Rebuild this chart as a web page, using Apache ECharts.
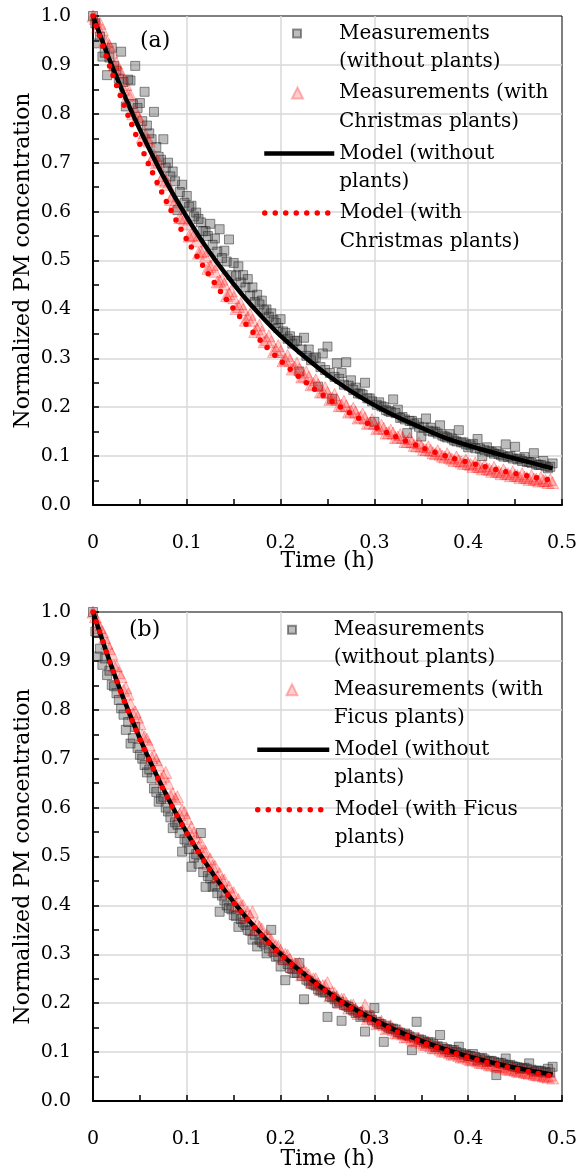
<!DOCTYPE html>
<html>
<head>
<meta charset="utf-8">
<script src="https://cdn.jsdelivr.net/npm/echarts@6.0.0/dist/echarts.min.js"></script>
<style>
  html, body { margin: 0; padding: 0; background: #fff; }
  #chart { width: 578px; height: 1174px; }
</style>
</head>
<body>
<div id="chart"></div>
<script>
// measurement times (h); the logger samples are split in two interleaved runs
const measTime = [0, 0.005, 0.01, 0.015, 0.02, 0.025, 0.03, 0.035, 0.04, 0.045,
  0.05, 0.055, 0.06, 0.065, 0.07, 0.075, 0.08, 0.085, 0.09, 0.095,
  0.1, 0.105, 0.11, 0.115, 0.12, 0.125, 0.13, 0.135, 0.14, 0.145,
  0.15, 0.155, 0.16, 0.165, 0.17, 0.175, 0.18, 0.185, 0.19, 0.195,
  0.2, 0.205, 0.21, 0.215, 0.22, 0.225, 0.23, 0.235, 0.24, 0.245,
  0.25, 0.255, 0.26, 0.265, 0.27, 0.275, 0.28, 0.285, 0.29, 0.295,
  0.3, 0.305, 0.31, 0.315, 0.32, 0.325, 0.33, 0.335, 0.34, 0.345,
  0.35, 0.355, 0.36, 0.365, 0.37, 0.375, 0.38, 0.385, 0.39, 0.395,
  0.4, 0.405, 0.41, 0.415, 0.42, 0.425, 0.43, 0.435, 0.44, 0.445,
  0.45, 0.455, 0.46, 0.465, 0.47, 0.475, 0.48, 0.485, 0.49];
const measTimeHalf = [0.0025, 0.0075, 0.0125, 0.0175, 0.0225, 0.0275, 0.0325, 0.0375, 0.0425, 0.0475,
  0.0525, 0.0575, 0.0625, 0.0675, 0.0725, 0.0775, 0.0825, 0.0875, 0.0925, 0.0975,
  0.1025, 0.1075, 0.1125, 0.1175, 0.1225, 0.1275, 0.1325, 0.1375, 0.1425, 0.1475,
  0.1525, 0.1575, 0.1625, 0.1675, 0.1725, 0.1775, 0.1825, 0.1875, 0.1925, 0.1975,
  0.2025, 0.2075, 0.2125, 0.2175, 0.2225, 0.2275, 0.2325, 0.2375, 0.2425, 0.2475,
  0.2525, 0.2575, 0.2625, 0.2675, 0.2725, 0.2775, 0.2825, 0.2875, 0.2925, 0.2975,
  0.3025, 0.3075, 0.3125, 0.3175, 0.3225, 0.3275, 0.3325, 0.3375, 0.3425, 0.3475,
  0.3525, 0.3575, 0.3625, 0.3675, 0.3725, 0.3775, 0.3825, 0.3875, 0.3925, 0.3975,
  0.4025, 0.4075, 0.4125, 0.4175, 0.4225, 0.4275, 0.4325, 0.4375, 0.4425, 0.4475,
  0.4525, 0.4575, 0.4625, 0.4675, 0.4725, 0.4775, 0.4825, 0.4875];

// panel (a)
const measNoPlantA = [1.000, 0.944, 0.917, 0.879, 0.935, 0.888, 0.927, 0.815, 0.868, 0.898,
  0.822, 0.845, 0.760, 0.804, 0.712, 0.748, 0.700, 0.682, 0.603, 0.655,
  0.632, 0.612, 0.598, 0.578, 0.560, 0.575, 0.545, 0.564, 0.520, 0.543,
  0.495, 0.488, 0.470, 0.462, 0.445, 0.430, 0.418, 0.400, 0.392, 0.372,
  0.380, 0.352, 0.345, 0.335, 0.273, 0.342, 0.318, 0.300, 0.242, 0.310,
  0.324, 0.217, 0.290, 0.270, 0.292, 0.255, 0.240, 0.228, 0.250, 0.218,
  0.170, 0.210, 0.200, 0.192, 0.216, 0.195, 0.180, 0.147, 0.172, 0.168,
  0.140, 0.177, 0.158, 0.150, 0.163, 0.140, 0.145, 0.132, 0.153, 0.128,
  0.118, 0.125, 0.135, 0.100, 0.118, 0.108, 0.110, 0.102, 0.124, 0.100,
  0.119, 0.095, 0.098, 0.088, 0.106, 0.082, 0.090, 0.075, 0.085];
const measNoPlantA2 = [0.985, 0.958, 0.925, 0.915, 0.898, 0.872, 0.865, 0.870, 0.820, 0.812,
  0.785, 0.776, 0.748, 0.732, 0.706, 0.690, 0.672, 0.662, 0.640, 0.618,
  0.610, 0.590, 0.585, 0.560, 0.550, 0.532, 0.518, 0.505, 0.498, 0.470,
  0.468, 0.455, 0.445, 0.428, 0.415, 0.410, 0.398, 0.385, 0.378, 0.362,
  0.355, 0.340, 0.330, 0.336, 0.318, 0.305, 0.296, 0.302, 0.282, 0.276,
  0.270, 0.262, 0.258, 0.246, 0.244, 0.235, 0.228, 0.226, 0.218, 0.212,
  0.205, 0.202, 0.194, 0.190, 0.188, 0.178, 0.175, 0.172, 0.165, 0.160,
  0.158, 0.152, 0.150, 0.146, 0.142, 0.138, 0.136, 0.130, 0.128, 0.124,
  0.122, 0.116, 0.115, 0.112, 0.110, 0.105, 0.104, 0.099, 0.098, 0.095,
  0.093, 0.090, 0.088, 0.086, 0.083, 0.082, 0.079, 0.078];
const measChristmasA = [1.000, 0.978, 0.972, 0.948, 0.926, 0.904, 0.884, 0.860, 0.838, 0.808,
  0.788, 0.762, 0.744, 0.716, 0.702, 0.674, 0.656, 0.632, 0.612, 0.588,
  0.575, 0.552, 0.540, 0.518, 0.508, 0.488, 0.478, 0.458, 0.452, 0.432,
  0.424, 0.406, 0.400, 0.384, 0.378, 0.360, 0.354, 0.338, 0.334, 0.318,
  0.314, 0.298, 0.296, 0.282, 0.278, 0.264, 0.261, 0.248, 0.246, 0.232,
  0.230, 0.218, 0.216, 0.204, 0.203, 0.192, 0.190, 0.180, 0.178, 0.168,
  0.167, 0.158, 0.157, 0.148, 0.147, 0.139, 0.138, 0.130, 0.129, 0.121,
  0.120, 0.113, 0.112, 0.105, 0.104, 0.098, 0.097, 0.091, 0.091, 0.085,
  0.085, 0.079, 0.079, 0.074, 0.074, 0.069, 0.069, 0.064, 0.065, 0.060,
  0.061, 0.056, 0.057, 0.052, 0.053, 0.049, 0.050, 0.046, 0.046];
const measChristmasA2 = [0.995, 0.985, 0.950, 0.940, 0.900, 0.890, 0.850, 0.840, 0.800, 0.795,
  0.752, 0.748, 0.706, 0.700, 0.665, 0.662, 0.625, 0.620, 0.588, 0.585,
  0.550, 0.552, 0.515, 0.520, 0.484, 0.492, 0.456, 0.462, 0.428, 0.438,
  0.402, 0.412, 0.378, 0.390, 0.355, 0.368, 0.334, 0.346, 0.314, 0.326,
  0.295, 0.306, 0.278, 0.290, 0.262, 0.272, 0.246, 0.256, 0.231, 0.240,
  0.216, 0.226, 0.203, 0.212, 0.190, 0.198, 0.178, 0.186, 0.167, 0.175,
  0.156, 0.163, 0.147, 0.153, 0.138, 0.144, 0.130, 0.136, 0.122, 0.127,
  0.114, 0.119, 0.107, 0.111, 0.100, 0.105, 0.094, 0.098, 0.088, 0.092,
  0.083, 0.086, 0.078, 0.081, 0.073, 0.077, 0.068, 0.072, 0.064, 0.068,
  0.060, 0.064, 0.056, 0.060, 0.053, 0.056, 0.050, 0.052];

// panel (b)
const measNoPlantB = [1.000, 0.909, 0.892, 0.871, 0.851, 0.834, 0.803, 0.759, 0.731, 0.765,
  0.708, 0.687, 0.678, 0.639, 0.612, 0.622, 0.592, 0.558, 0.565, 0.510,
  0.530, 0.479, 0.505, 0.548, 0.438, 0.455, 0.440, 0.387, 0.410, 0.395,
  0.380, 0.356, 0.365, 0.350, 0.330, 0.316, 0.325, 0.302, 0.350, 0.295,
  0.275, 0.247, 0.272, 0.262, 0.282, 0.208, 0.245, 0.238, 0.228, 0.222,
  0.172, 0.212, 0.200, 0.164, 0.195, 0.188, 0.180, 0.172, 0.142, 0.175,
  0.190, 0.158, 0.121, 0.150, 0.148, 0.140, 0.136, 0.135, 0.104, 0.162,
  0.125, 0.118, 0.120, 0.110, 0.135, 0.106, 0.100, 0.104, 0.111, 0.095,
  0.092, 0.096, 0.083, 0.088, 0.080, 0.082, 0.053, 0.078, 0.087, 0.074,
  0.070, 0.066, 0.068, 0.077, 0.060, 0.062, 0.058, 0.066, 0.070];
const measNoPlantB2 = [0.960, 0.925, 0.905, 0.880, 0.848, 0.820, 0.790, 0.775, 0.742, 0.722,
  0.700, 0.672, 0.660, 0.632, 0.618, 0.600, 0.580, 0.570, 0.548, 0.535,
  0.515, 0.498, 0.485, 0.468, 0.460, 0.438, 0.425, 0.420, 0.400, 0.392,
  0.378, 0.372, 0.360, 0.348, 0.340, 0.330, 0.322, 0.312, 0.305, 0.296,
  0.288, 0.280, 0.270, 0.262, 0.256, 0.248, 0.240, 0.236, 0.226, 0.222,
  0.214, 0.208, 0.203, 0.196, 0.192, 0.185, 0.182, 0.175, 0.172, 0.166,
  0.162, 0.157, 0.154, 0.148, 0.146, 0.140, 0.138, 0.132, 0.130, 0.126,
  0.122, 0.120, 0.116, 0.112, 0.110, 0.106, 0.104, 0.100, 0.098, 0.095,
  0.092, 0.090, 0.087, 0.085, 0.082, 0.080, 0.078, 0.075, 0.073, 0.071,
  0.069, 0.067, 0.066, 0.064, 0.062, 0.061, 0.059, 0.058];
const measFicusB = [1.000, 0.975, 0.960, 0.936, 0.915, 0.890, 0.868, 0.845, 0.812, 0.796,
  0.772, 0.745, 0.728, 0.706, 0.687, 0.664, 0.650, 0.628, 0.622, 0.595,
  0.578, 0.560, 0.540, 0.528, 0.510, 0.495, 0.480, 0.465, 0.452, 0.438,
  0.426, 0.412, 0.400, 0.386, 0.387, 0.362, 0.352, 0.340, 0.330, 0.318,
  0.308, 0.300, 0.290, 0.281, 0.282, 0.266, 0.258, 0.250, 0.240, 0.236,
  0.242, 0.222, 0.214, 0.208, 0.200, 0.196, 0.188, 0.182, 0.196, 0.172,
  0.166, 0.160, 0.156, 0.150, 0.146, 0.140, 0.137, 0.132, 0.128, 0.124,
  0.120, 0.116, 0.113, 0.109, 0.106, 0.102, 0.099, 0.096, 0.093, 0.090,
  0.087, 0.085, 0.082, 0.079, 0.077, 0.074, 0.072, 0.070, 0.067, 0.065,
  0.063, 0.061, 0.059, 0.057, 0.055, 0.053, 0.051, 0.049, 0.047];
const measFicusB2 = [0.990, 0.968, 0.948, 0.925, 0.890, 0.876, 0.840, 0.832, 0.792, 0.785,
  0.748, 0.740, 0.702, 0.698, 0.660, 0.672, 0.624, 0.618, 0.586, 0.590,
  0.552, 0.548, 0.520, 0.512, 0.486, 0.480, 0.458, 0.452, 0.428, 0.425,
  0.402, 0.398, 0.376, 0.378, 0.352, 0.356, 0.330, 0.336, 0.310, 0.316,
  0.292, 0.298, 0.274, 0.280, 0.258, 0.262, 0.243, 0.250, 0.228, 0.236,
  0.215, 0.220, 0.202, 0.208, 0.190, 0.196, 0.179, 0.184, 0.168, 0.174,
  0.158, 0.163, 0.148, 0.154, 0.139, 0.144, 0.131, 0.136, 0.123, 0.128,
  0.116, 0.120, 0.109, 0.113, 0.102, 0.106, 0.096, 0.099, 0.090, 0.093,
  0.084, 0.088, 0.079, 0.083, 0.074, 0.078, 0.070, 0.073, 0.065, 0.069,
  0.061, 0.065, 0.058, 0.061, 0.054, 0.057, 0.051, 0.053];

// model curves
const modelTime = [0, 0.02, 0.04, 0.06, 0.08, 0.1, 0.12, 0.14, 0.16, 0.18, 0.2,
  0.23, 0.26, 0.29, 0.32, 0.35, 0.38, 0.41, 0.44, 0.47, 0.49];
const modelNoPlantA = [1.0, 0.899, 0.809, 0.728, 0.654, 0.589, 0.529, 0.476, 0.428, 0.385, 0.346,
  0.296, 0.252, 0.215, 0.184, 0.158, 0.134, 0.116, 0.100, 0.085, 0.075];
const modelChristmasA = [1.0, 0.885, 0.784, 0.694, 0.614, 0.543, 0.481, 0.426, 0.377, 0.333, 0.295,
  0.246, 0.205, 0.170, 0.142, 0.118, 0.098, 0.082, 0.068, 0.057, 0.050];
const modelNoPlantB = [1.0, 0.887, 0.787, 0.698, 0.619, 0.549, 0.487, 0.432, 0.383, 0.340, 0.301,
  0.252, 0.210, 0.176, 0.147, 0.123, 0.103, 0.086, 0.072, 0.061, 0.054];
const modelFicusB = [1.0, 0.887, 0.786, 0.697, 0.618, 0.548, 0.486, 0.431, 0.382, 0.339, 0.300,
  0.251, 0.209, 0.174, 0.145, 0.121, 0.101, 0.084, 0.070, 0.058, 0.051];

const FONT = 'DejaVu Serif';

function pairs(xs, ys) {
  return xs.map((x, i) => [x, ys[i]]);
}

function xAxisFor(g, gap) {
  return {
    gridIndex: g, type: 'value', min: 0, max: 0.5, interval: 0.1,
    name: 'Time (h)', nameLocation: 'middle', nameGap: gap, nameMoveOverlap: false,
    nameTextStyle: { fontFamily: FONT, fontSize: 22, color: '#000' },
    axisLine: { onZero: false, lineStyle: { color: '#000', width: 2 } },
    axisTick: { show: true, inside: true, length: 6, lineStyle: { color: '#000', width: 1.5 } },
    minorTick: { show: true, splitNumber: 2, length: 6, lineStyle: { color: '#000', width: 1.5 } },
    axisLabel: {
      fontFamily: FONT, fontSize: 19, color: '#000', margin: 29,
      formatter: v => (v === 0 ? '0' : v.toFixed(1))
    },
    splitLine: { show: true, showMinLine: false, showMaxLine: false, lineStyle: { color: '#d9d9d9', width: 1.5 } }
  };
}

function yAxisFor(g) {
  return {
    gridIndex: g, type: 'value', min: 0, max: 1, interval: 0.1,
    name: 'Normalized PM concentration', nameLocation: 'middle', nameGap: 59, nameRotate: 90,
    nameMoveOverlap: false,
    nameTextStyle: { fontFamily: FONT, fontSize: 22, color: '#000' },
    axisLine: { show: true, onZero: false, lineStyle: { color: '#000', width: 2 } },
    axisTick: { show: true, inside: true, length: 6, lineStyle: { color: '#000', width: 1.5 } },
    minorTick: { show: true, splitNumber: 2, length: 6, lineStyle: { color: '#000', width: 1.5 } },
    axisLabel: { fontFamily: FONT, fontSize: 19, color: '#000', margin: 22, formatter: v => v.toFixed(1) },
    splitLine: { show: true, showMinLine: false, showMaxLine: false, lineStyle: { color: '#d9d9d9', width: 1.5 } }
  };
}

// one legend block per entry; the leading empty line puts the icon on the first text line
function legendItem(name, left, top, w, h, padLeft, lineWidth) {
  const lg = {
    data: [name], left: left, top: top, orient: 'vertical', padding: 0,
    itemWidth: w, itemHeight: h, itemGap: 0, selectedMode: false,
    formatter: n => '\n' + n,
    textStyle: { fontFamily: FONT, fontSize: 20, lineHeight: 28.5, color: '#000', padding: [0, 0, 0, padLeft] }
  };
  if (lineWidth) {
    lg.lineStyle = { width: lineWidth };
    lg.itemStyle = { opacity: 0 };
  }
  return lg;
}

const squareStyle = { color: 'rgba(60,60,60,0.42)', borderColor: 'rgba(30,30,30,0.6)', borderWidth: 1 };
const triangleStyle = { color: 'rgba(255,0,0,0.22)', borderColor: 'rgba(255,0,0,0.35)', borderWidth: 1 };

function measSeries(name, g, xs, ys, symbol, size, style) {
  return {
    name: name, type: 'scatter', xAxisIndex: g, yAxisIndex: g,
    symbol: symbol, symbolSize: size, itemStyle: style, clip: false, silent: true,
    data: pairs(xs, ys)
  };
}

function modelSeries(name, g, ys, lineStyle) {
  return {
    name: name, type: 'line', xAxisIndex: g, yAxisIndex: g,
    symbol: 'none', smooth: 0.3, silent: true, clip: false,
    itemStyle: { color: lineStyle.color }, lineStyle: lineStyle,
    data: pairs(modelTime, ys)
  };
}

const blackLine = { color: '#000', width: 4.5 };
const redDots = { color: '#ff0000', width: 5.5, type: [0, 10.5], cap: 'round' };

const names = {
  measNo: 'Measurements\n(without plants)',
  measChr: 'Measurements (with\nChristmas plants)',
  modNo: 'Model (without\nplants)',
  modChr: 'Model (with\nChristmas plants)',
  measFic: 'Measurements (with\nFicus plants)',
  modFic: 'Model (with Ficus\nplants)'
};

const chart = echarts.init(document.getElementById('chart'));

chart.setOption({
  animation: false,
  backgroundColor: '#fff',
  title: [
    { text: '(a)', left: 140, top: 30, padding: 0, textStyle: { fontFamily: FONT, fontSize: 22, fontWeight: 'normal', color: '#000' } },
    { text: '(b)', left: 129, top: 619, padding: 0, textStyle: { fontFamily: FONT, fontSize: 22, fontWeight: 'normal', color: '#000' } }
  ],
  grid: [
    { left: 93, top: 16, width: 469, height: 489, show: true, borderColor: '#000', borderWidth: 1, outerBoundsMode: 'none' },
    { left: 93, top: 612, width: 469, height: 489, show: true, borderColor: '#000', borderWidth: 1, outerBoundsMode: 'none' }
  ],
  xAxis: [xAxisFor(0, 45), xAxisFor(1, 47)],
  yAxis: [yAxisFor(0), yAxisFor(1)],
  legend: [
    legendItem(names.measNo, 292, -9.25, 8, 8, 33),
    legendItem(names.measChr, 291, 50.25, 11, 11, 31),
    legendItem(names.modNo, 262, 110.75, 70, 14, 0, 4.5),
    legendItem(names.modChr, 262, 170.25, 70, 14, 0, 5.5),
    legendItem(names.measNo, 287, 586.95, 8, 8, 32.7),
    legendItem(names.measFic, 285.5, 646.95, 11, 11, 31.2),
    legendItem(names.modNo, 255, 706.95, 72, 14, 0, 4.5),
    legendItem(names.modFic, 255, 766.95, 72, 14, 0, 5.5)
  ],
  series: [
    measSeries(names.measNo, 0, measTime, measNoPlantA, 'rect', 9, squareStyle),
    measSeries(names.measNo, 0, measTimeHalf, measNoPlantA2, 'rect', 9, squareStyle),
    measSeries(names.measChr, 0, measTime, measChristmasA, 'triangle', 12, triangleStyle),
    measSeries(names.measChr, 0, measTimeHalf, measChristmasA2, 'triangle', 12, triangleStyle),
    modelSeries(names.modNo, 0, modelNoPlantA, blackLine),
    modelSeries(names.modChr, 0, modelChristmasA, redDots),
    measSeries(names.measNo, 1, measTime, measNoPlantB, 'rect', 9, squareStyle),
    measSeries(names.measNo, 1, measTimeHalf, measNoPlantB2, 'rect', 9, squareStyle),
    measSeries(names.measFic, 1, measTime, measFicusB, 'triangle', 12, triangleStyle),
    measSeries(names.measFic, 1, measTimeHalf, measFicusB2, 'triangle', 12, triangleStyle),
    modelSeries(names.modNo, 1, modelNoPlantB, blackLine),
    modelSeries(names.modFic, 1, modelFicusB, redDots)
  ]
});
</script>
</body>
</html>
